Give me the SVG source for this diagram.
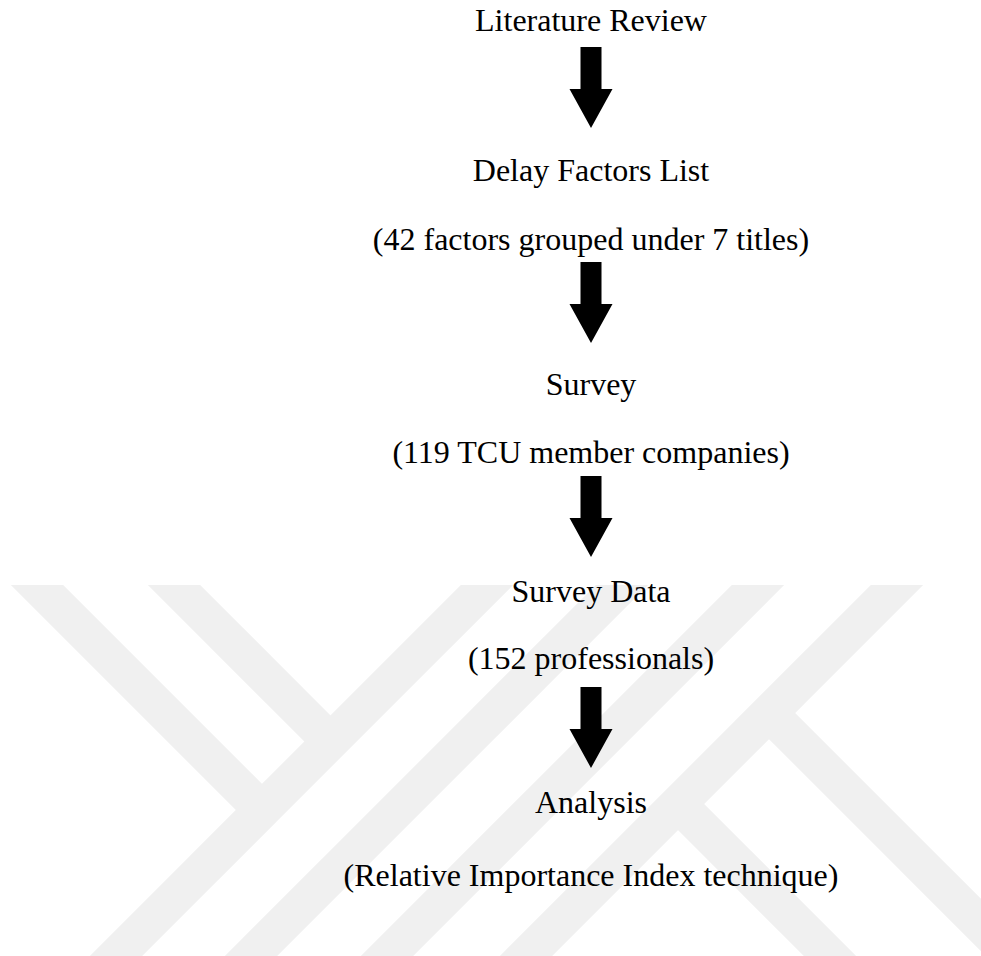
<svg xmlns="http://www.w3.org/2000/svg" width="981" height="956" viewBox="0 0 981 956">
<defs>
<style>
.t{font-family:"Liberation Serif","Times New Roman",serif;font-size:32px;fill:#000;text-anchor:middle}
.wm{stroke:#f0f0f0;stroke-width:37;fill:none;stroke-linecap:butt}
.arr{fill:#000}
</style>
<clipPath id="wmclip"><rect x="0" y="585" width="981" height="371"/></clipPath>
</defs>
<rect width="981" height="956" fill="#fff"/>
<g id="watermark" clip-path="url(#wmclip)">
<line class="wm" x1="557" y1="515" x2="46" y2="1026"/>
<line class="wm" x1="692" y1="515" x2="181" y2="1026"/>
<line class="wm" x1="828" y1="515" x2="317" y2="1026"/>
<line class="wm" x1="967" y1="515" x2="456" y2="1026"/>
<line class="wm" x1="-33" y1="515" x2="262" y2="810"/>
<line class="wm" x1="104" y1="515" x2="330.5" y2="741.5"/>
<line class="wm" x1="678" y1="804" x2="1000" y2="1126"/>
<line class="wm" x1="769" y1="713" x2="1100" y2="1044"/>
</g>
<g id="n1"><text class="t" x="591" y="31">Literature Review</text></g>
<g id="n2"><text class="t" x="591" y="181">Delay Factors List</text><text class="t" x="591" y="250">(42 factors grouped under 7 titles)</text></g>
<g id="n3"><text class="t" x="591" y="395">Survey</text><text class="t" x="591" y="463">(119 TCU member companies)</text></g>
<g id="n4"><text class="t" x="591" y="602">Survey Data</text><text class="t" x="591" y="669">(152 professionals)</text></g>
<g id="n5"><text class="t" x="591" y="813">Analysis</text><text class="t" x="591" y="886">(Relative Importance Index technique)</text></g>
<g id="connectors">
<polygon class="arr" points="580.5,47 601.5,47 601.5,89 612.5,89 591,128 569.5,89 580.5,89"/>
<polygon class="arr" points="580.5,262 601.5,262 601.5,304 612.5,304 591,343 569.5,304 580.5,304"/>
<polygon class="arr" points="580.5,476 601.5,476 601.5,518 612.5,518 591,557 569.5,518 580.5,518"/>
<polygon class="arr" points="580.5,687 601.5,687 601.5,729 612.5,729 591,768 569.5,729 580.5,729"/>
</g>
</svg>
